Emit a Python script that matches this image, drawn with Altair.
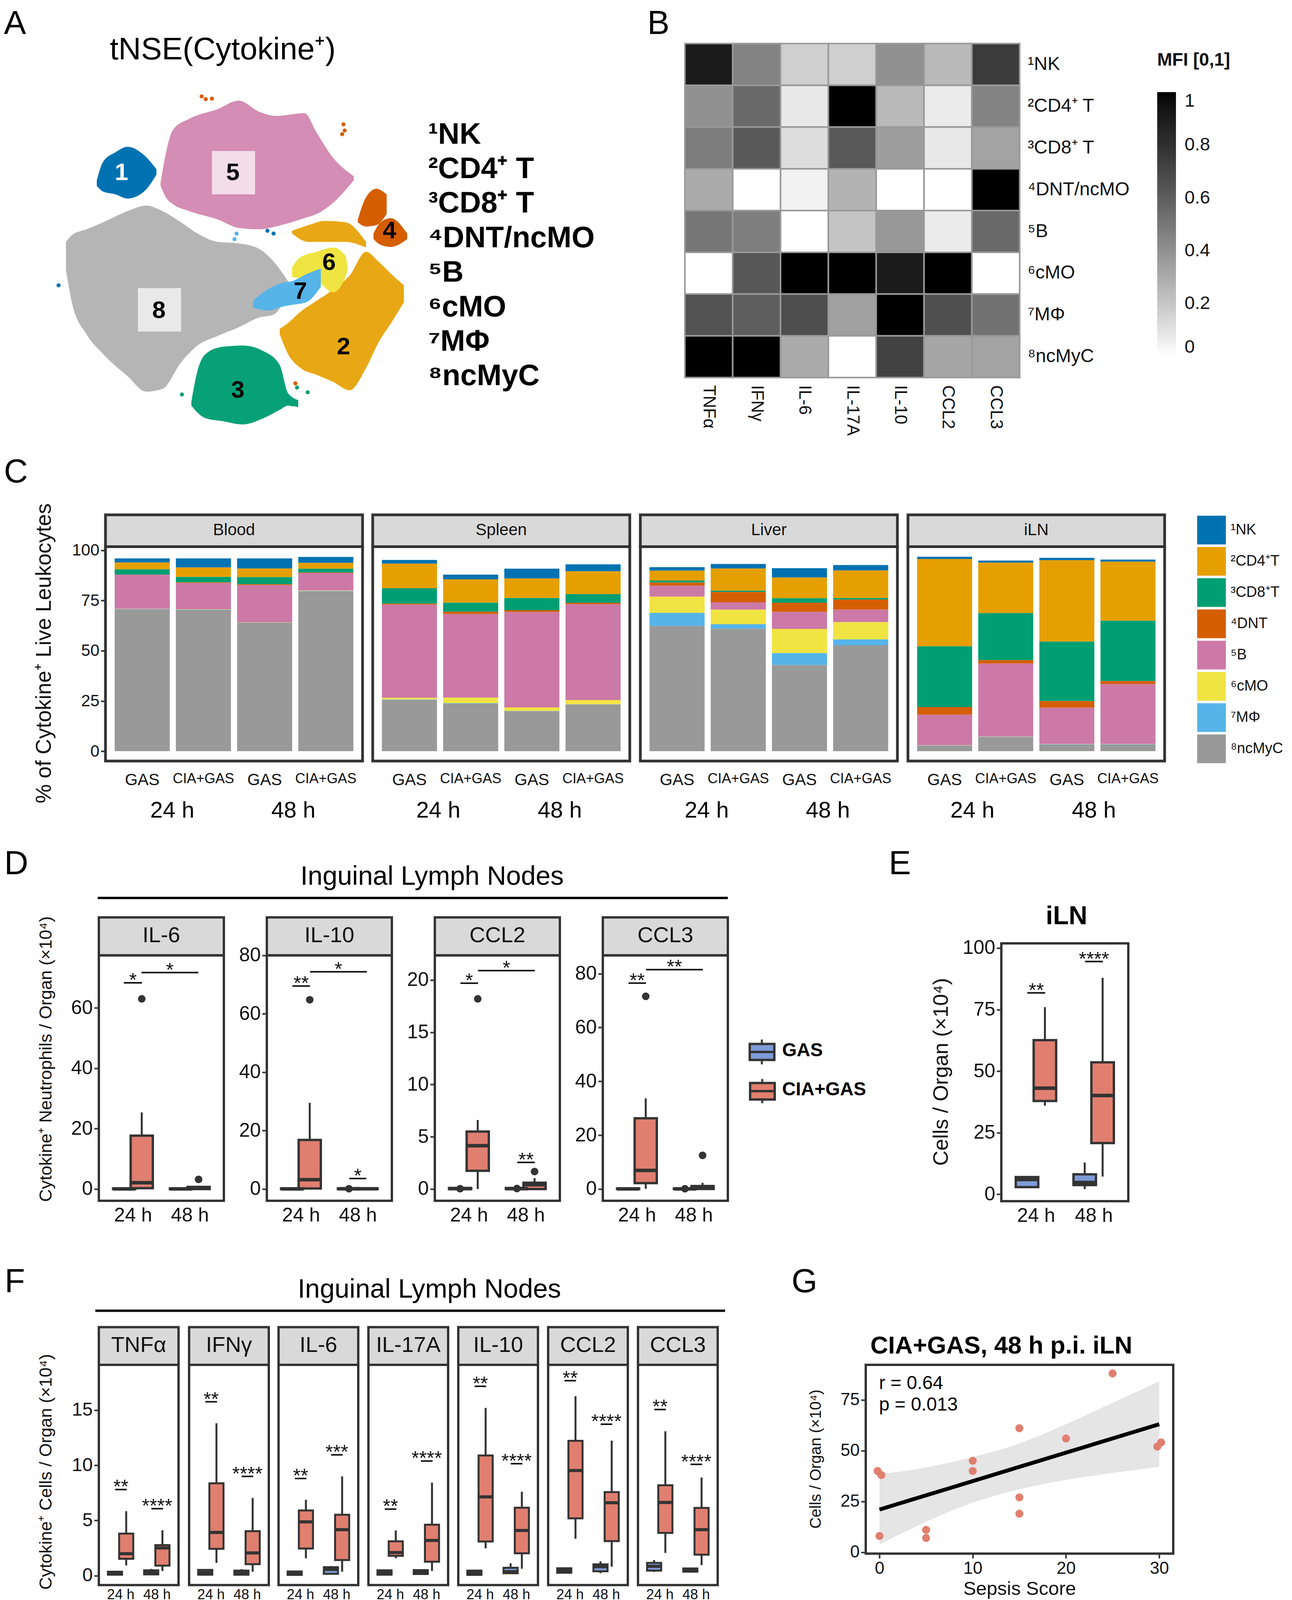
import altair as alt
import pandas as pd

# ---------- palette ----------
NAMES = ["¹NK", "²CD4⁺T", "³CD8⁺T", "⁴DNT", "⁵B", "⁶cMO", "⁷MΦ", "⁸ncMyC"]
COLORS = ["#0072B2", "#E69F00", "#009E73", "#D55E00", "#CC79A7", "#F0E442", "#56B4E9", "#999999"]
GROUP_COL = ["#7F9BD8", "#E07F6F"]
DARK = "#333333"
STRIP = "#D9D9D9"
FONT = "Liberation Sans"

# ---------- A: cluster outlines (map units) ----------
T8_X = [150, 165, 200, 240, 300, 345, 385, 430, 470, 520, 570, 620, 655, 690]
T8_T = [860, 835, 815, 790, 750, 730, 750, 790, 830, 860, 865, 885, 930, 1000]
T8_B = [960, 1080, 1190, 1260, 1340, 1395, 1385, 1290, 1230, 1195, 1165, 1130, 1120, 1040]
T5_X = [380, 395, 410, 450, 520, 570, 620, 660, 730, 760, 800, 850]
T5_T = [650, 530, 460, 420, 385, 355, 395, 410, 400, 470, 560, 625]
T5_B = [660, 705, 725, 750, 780, 810, 815, 805, 775, 760, 720, 640]
T1_X = [225, 240, 270, 300, 340, 370]
T1_T = [640, 575, 540, 520, 550, 600]
T1_B = [660, 680, 690, 705, 680, 620]
T2_X = [670, 690, 720, 760, 800, 840, 880, 910, 945, 972]
T2_T = [1170, 1150, 1110, 1070, 1030, 980, 895, 930, 980, 1015]
T2_B = [1190, 1260, 1310, 1335, 1360, 1390, 1310, 1220, 1140, 1075]
T2B_X = [700, 740, 780, 830, 880]
T2B_T = [820, 800, 785, 790, 860]
T2B_B = [830, 860, 860, 860, 880]
T4A_X = [860, 880, 905, 930]
T4A_T = [780, 700, 670, 690]
T4A_B = [790, 805, 800, 760]
T4B_X = [898, 915, 940, 980]
T4B_T = [830, 790, 775, 830]
T4B_B = [850, 870, 878, 850]
T6_X = [700, 720, 760, 800, 830, 835]
T6_T = [950, 915, 895, 880, 910, 950]
T6_B = [985, 990, 1000, 1040, 985, 960]
T7_X = [605, 640, 680, 700, 735, 770]
T7_T = [1070, 1030, 1005, 1000, 975, 955]
T7_B = [1095, 1105, 1090, 1085, 1075, 1020]
T3_X = [455, 470, 490, 530, 580, 630, 670, 690, 715]
T3_T = [1430, 1320, 1260, 1235, 1230, 1250, 1300, 1400, 1425]
T3_B = [1445, 1470, 1490, 1500, 1512, 1490, 1460, 1445, 1450]
SPECK_X = [480, 490, 505, 825, 828, 822, 132, 432, 738, 708, 712, 690, 700, 565, 560, 655, 640]
SPECK_Y = [340, 350, 348, 440, 462, 475, 1015, 1405, 1397, 1365, 1380, 1425, 1440, 830, 850, 830, 820]
SPECK_K = ["#D55E00", "#D55E00", "#D55E00", "#D55E00", "#D55E00", "#D55E00", "#0072B2", "#009E73", "#009E73",
           "#D55E00", "#009E73", "#009E73", "#009E73", "#56B4E9", "#56B4E9", "#0072B2", "#0072B2"]
TSNE_NUM = ["1", "5", "8", "7", "6", "4", "2", "3"]
TSNE_NUM_X = [285, 556, 376, 720, 790, 937, 825, 568]
TSNE_NUM_Y = [612, 612, 1105, 1037, 933, 820, 1235, 1390]
TSNE_NUM_C = ["white", "black", "black", "black", "black", "black", "black", "black"]

# ---------- B ----------
HM_COLS = ["TNFα", "IFNγ", "IL-6", "IL-17A", "IL-10", "CCL2", "CCL3"]
HM_ROWS = ["¹NK", "²CD4⁺ T", "³CD8⁺ T", "⁴DNT/ncMO", "⁵B", "⁶cMO", "⁷MΦ", "⁸ncMyC"]
HM_NK = [0.90, 0.45, 0.17, 0.17, 0.40, 0.25, 0.75]
HM_CD4 = [0.40, 0.55, 0.08, 1.00, 0.25, 0.07, 0.45]
HM_CD8 = [0.48, 0.62, 0.12, 0.62, 0.35, 0.08, 0.33]
HM_DNT = [0.30, 0.00, 0.05, 0.27, 0.00, 0.00, 1.00]
HM_B = [0.50, 0.47, 0.00, 0.21, 0.37, 0.07, 0.55]
HM_CMO = [0.00, 0.63, 1.00, 1.00, 0.90, 1.00, 0.00]
HM_MP = [0.65, 0.60, 0.67, 0.34, 1.00, 0.66, 0.52]
HM_MYC = [1.00, 1.00, 0.30, 0.00, 0.72, 0.32, 0.33]

# ---------- C: cumulative tops, ncMyC upwards to NK ----------
C_KEYS = ["GAS|24", "CIA+GAS|24", "GAS|48", "CIA+GAS|48"]
BLOOD = [[70.7, 70.8, 70.9, 87.9, 87.9, 90.6, 94.0, 96.0],
         [70.2, 70.4, 70.6, 83.8, 84.1, 86.8, 91.5, 96.0],
         [64.0, 64.1, 64.2, 82.7, 83.2, 86.7, 91.0, 96.0],
         [79.6, 79.8, 80.0, 88.7, 89.0, 90.9, 93.8, 96.7]]
SPLEEN = [[25.6, 25.8, 26.6, 73.0, 73.5, 81.1, 93.4, 95.2],
          [23.8, 24.0, 26.7, 68.3, 69.5, 74.0, 85.6, 87.9],
          [20.0, 20.1, 21.8, 69.4, 70.2, 76.3, 86.0, 90.9],
          [23.3, 23.4, 25.5, 73.2, 73.9, 78.2, 89.6, 93.0]]
LIVER = [[62.4, 68.9, 77.0, 82.4, 84.0, 85.0, 89.9, 91.6],
         [61.0, 63.2, 70.5, 74.1, 79.3, 80.0, 91.0, 93.2],
         [42.9, 48.9, 60.9, 69.4, 73.9, 76.2, 86.5, 91.1],
         [52.7, 55.7, 64.3, 70.5, 75.5, 76.3, 90.0, 92.7]]
ILN = [[2.8, 2.9, 3.0, 18.2, 22.0, 52.3, 95.7, 96.8],
       [7.1, 7.2, 7.3, 43.7, 45.4, 68.8, 93.9, 94.9],
       [3.4, 3.5, 3.6, 21.7, 25.0, 54.6, 95.1, 96.3],
       [3.4, 3.5, 3.6, 33.4, 35.0, 65.0, 94.4, 95.4]]

# ---------- D: box rows are GAS 24, CIA 24, GAS 48, CIA 48 as lo,q1,med,q3,hi ----------
D_IL6 = [[0, 0, 0.05, 0.2, 0.2], [0, 0.3, 2.1, 17.7, 25.4], [0, 0, 0.05, 0.2, 0.2], [0, 0, 0.3, 0.7, 1.1]]
D_IL6_OUT = [(1.155, 63.0), (2.155, 3.2)]
D_IL6_SIG = [(0.84, 1.16, 68.3, "*"), (1.15, 2.15, 71.7, "*")]
D_IL10 = [[0, 0, 0.05, 0.2, 0.2], [0, 0.2, 3.2, 16.8, 29.5], [0, 0, 0.1, 0.2, 0.2], [0, 0, 0.1, 0.2, 0.2]]
D_IL10_OUT = [(1.155, 64.8), (1.845, 0.1)]
D_IL10_SIG = [(0.85, 1.16, 69.5, "**"), (1.16, 2.16, 74.4, "*"), (1.85, 2.15, 3.6, "*")]
D_CCL2 = [[0, 0, 0.03, 0.1, 0.1], [0, 1.74, 4.15, 5.5, 6.6], [0, 0, 0.03, 0.1, 0.1], [0, 0, 0.42, 0.6, 1.05]]
D_CCL2_OUT = [(0.845, 0.03), (1.155, 18.2), (1.845, 0.05), (2.155, 1.67)]
D_CCL2_SIG = [(0.85, 1.16, 19.7, "*"), (1.16, 2.16, 20.9, "*"), (1.85, 2.16, 2.55, "**")]
D_CCL3 = [[0, 0, 0.05, 0.2, 0.2], [0.1, 2.2, 6.9, 26.3, 33.7], [0, 0, 0.05, 0.2, 0.2], [0, 0, 0.4, 1.1, 2.3]]
D_CCL3_OUT = [(1.845, 0.1), (1.155, 71.6), (2.155, 12.5)]
D_CCL3_SIG = [(0.85, 1.16, 76.5, "**"), (1.16, 2.16, 81.5, "**")]

# ---------- E ----------
E_BOX = [[2.9, 2.9, 6.0, 7.0, 7.0], [36.0, 37.9, 43.1, 62.6, 76.0], [2.1, 3.75, 4.8, 8.1, 12.9], [7.2, 20.8, 40.1, 53.6, 87.9]]
E_SIG = [(0.85, 1.16, 81.8, "**"), (1.85, 2.16, 94.5, "****")]

# ---------- F ----------
F_TNF = [[.1, .1, .27, .37, .37], [.94, 1.54, 2.0, 3.82, 5.85], [.12, .12, .33, .49, .62], [.43, .92, 2.52, 2.77, 4.12]]
F_TNF_SIG = [(0.85, 1.17, 7.8, "**"), (1.85, 2.17, 6.07, "****")]
F_IFN = [[.1, .1, .3, .53, .53], [1.17, 2.44, 3.92, 8.37, 13.8], [.1, .1, .3, .47, .6], [.37, 1.05, 2.07, 4.04, 7.04]]
F_IFN_SIG = [(0.85, 1.17, 15.74, "**"), (1.85, 2.17, 8.99, "****")]
F_IL6 = [[.08, .08, .23, .39, .39], [1.58, 2.46, 4.88, 5.91, 6.87], [.18, .18, .57, .78, .88], [.37, 1.42, 4.17, 5.52, 8.99]]
F_IL6_SIG = [(0.85, 1.17, 8.8, "**"), (1.85, 2.17, 10.94, "***")]
F_IL17 = [[.1, .1, .27, .49, .49], [1.58, 1.8, 2.1, 3.12, 4.1], [.1, .16, .37, .51, .51], [.43, 1.27, 3.2, 4.62, 8.43]]
F_IL17_SIG = [(0.85, 1.17, 6.03, "**"), (1.85, 2.17, 10.38, "****")]
F_IL10 = [[.08, .08, .27, .47, .47], [2.48, 3.1, 7.14, 10.88, 15.19], [.23, .23, .37, .72, 1.13], [.64, 2.03, 4.1, 6.16, 7.61]]
F_IL10_SIG = [(0.85, 1.17, 17.14, "**"), (1.85, 2.17, 10.14, "****")]
F_CCL2 = [[.27, .27, .47, .68, .68], [3.35, 5.19, 9.52, 12.21, 16.25], [.23, .41, .82, 1.03, 1.31], [.82, 3.14, 6.61, 7.57, 12.23]]
F_CCL2_SIG = [(0.85, 1.17, 17.65, "**"), (1.85, 2.17, 13.71, "****")]
F_CCL3 = [[.35, .47, .86, 1.17, 1.42], [2.07, 3.88, 6.63, 8.19, 13.07], [.31, .37, .51, .66, .66], [.96, 1.91, 4.17, 6.14, 8.89]]
F_CCL3_SIG = [(0.85, 1.17, 15.04, "**"), (1.85, 2.17, 10.08, "****")]

# ---------- G ----------
G_X = [-0.2, 0.2, 0, 5, 5, 10, 10, 15, 15, 15, 20, 25, 29.8, 30.2]
G_Y = [40, 38, 8, 11, 7, 45, 40, 61, 27, 19, 56, 88, 52, 54]
G_BAND_X = [0, 5, 10, 15, 20, 25, 30]
G_BAND_LO = [3.8, 15, 24.4, 31, 35.6, 39, 42]
G_BAND_HI = [38.4, 41.7, 46.8, 53.5, 63, 73.5, 84.1]
G_LINE_X = [0, 30]
G_LINE_Y = [21, 63]

ONE = pd.DataFrame({"_": [0]})
PAGE = 8
SY = 0.9364  # the whole page is drawn this much shorter so that nothing falls below the photographed area


def Y(v):
    return v * SY


R1, R2, R3, R4 = PAGE, Y(1230), Y(2300), Y(3420)  # where each row starts


def frame(w, H, top, sw=6):
    return alt.Chart(ONE).mark_rect(fillOpacity=0, stroke=DARK, strokeWidth=sw).encode(
        x=alt.value(0), x2=alt.value(w), y=alt.value(top), y2=alt.value(H))


def strip(w, y0, top, text, size, sw=6):
    box = alt.Chart(ONE).mark_rect(fill=STRIP, stroke=DARK, strokeWidth=sw).encode(
        x=alt.value(0), x2=alt.value(w), y=alt.value(y0), y2=alt.value(top))
    lab = alt.Chart(ONE).mark_text(text=text, fontSize=size, color="#111111", baseline="middle", align="center").encode(
        x=alt.value(w / 2), y=alt.value((y0 + top) / 2 - 2))
    return [box, lab]


def spacer(w, h=1):
    return alt.Chart(ONE).mark_point(opacity=0).encode(x=alt.value(0), y=alt.value(0)).properties(width=w, height=h)


def box_panel(w, H, top, ydom, yticks, rows, out=(), sig=(), strip_text=None, y0=0, strip_size=56,
              show_y=True, ylab=50, xlab=50, xpad=12, ytitle=None, stroke=6, med=9, dot=380):
    xc = [1 - .155, 1 + .155, 2 - .155, 2 + .155]
    hw = .195
    df = pd.DataFrame(rows, columns=["lo", "q1", "med", "q3", "hi"])
    df["xc"] = xc
    df["x1"] = df.xc - hw
    df["x2"] = df.xc + hw
    df["g"] = ["GAS", "CIA+GAS", "GAS", "CIA+GAS"]
    xs = alt.Scale(domain=[0.4, 2.6], nice=False, zero=False)
    ys = alt.Scale(domain=list(ydom), range=[H, top], nice=False, zero=False)
    xaxis = alt.Axis(values=[1, 2], labelExpr="datum.value == 1 ? '24 h' : '48 h'", ticks=False, domain=False,
                     grid=False, labelFontSize=xlab, labelPadding=xpad, title=None, labelColor="#111111", labelAngle=0)
    if show_y:
        kw = dict(values=list(yticks), domain=False, grid=False, tickColor=DARK, tickWidth=4, tickSize=12,
                  labelFontSize=ylab, labelPadding=4, labelColor="#111111")
        if ytitle:
            kw.update(title=ytitle[0], titleFontSize=ytitle[3], titleFontWeight="normal", titleX=ytitle[1],
                      titleY=ytitle[2], titleBaseline="middle", titleAlign="center", titleColor="#111111")
        else:
            kw.update(title=None)
        yaxis = alt.Axis(**kw)
    else:
        yaxis = None
    base = alt.Chart(df)
    layers = []
    if strip_text:
        layers += strip(w, y0, top, strip_text, strip_size)
    layers.append(base.mark_rule(color=DARK, strokeWidth=5).encode(
        x=alt.X("xc:Q", scale=xs, axis=xaxis),
        y=alt.Y("lo:Q", scale=ys, axis=yaxis), y2="hi:Q"))
    layers.append(base.mark_rect(stroke=DARK, strokeWidth=stroke).encode(
        x=alt.X("x1:Q", scale=xs), x2="x2:Q", y=alt.Y("q1:Q", scale=ys), y2="q3:Q",
        fill=alt.Fill("g:N", scale=alt.Scale(domain=["GAS", "CIA+GAS"], range=GROUP_COL), legend=None)))
    layers.append(base.mark_rule(color=DARK, strokeWidth=med).encode(
        x=alt.X("x1:Q", scale=xs), x2="x2:Q", y=alt.Y("med:Q", scale=ys)))
    if len(out):
        o = pd.DataFrame(out, columns=["x", "y"])
        layers.append(alt.Chart(o).mark_point(filled=True, color=DARK, opacity=1, size=dot).encode(
            x=alt.X("x:Q", scale=xs), y=alt.Y("y:Q", scale=ys)))
    if len(sig):
        s = pd.DataFrame(sig, columns=["a", "b", "y", "t"])
        s["m"] = (s.a + s.b) / 2
        layers.append(alt.Chart(s).mark_rule(color="#111111", strokeWidth=4).encode(
            x=alt.X("a:Q", scale=xs), x2="b:Q", y=alt.Y("y:Q", scale=ys)))
        layers.append(alt.Chart(s).mark_text(fontSize=50, color="#111111", baseline="alphabetic", dy=10).encode(
            x=alt.X("m:Q", scale=xs), y=alt.Y("y:Q", scale=ys), text="t:N"))
    layers.append(frame(w, H, top))
    return alt.layer(*layers).properties(width=w, height=H)


def stack_panel(name, tops, w, show_y=False, legend=None):
    y0, top, H = Y(1401) - R2, Y(1488) - R2, Y(2074) - R2
    rows = []
    order = NAMES[::-1]
    for key, col in zip(C_KEYS, tops):
        prev = 0
        for n, t in zip(order, col):
            rows.append({"key": key, "cell": n, "lo": prev, "hi": t})
            prev = t
    df = pd.DataFrame(rows)
    ys = alt.Scale(domain=[-4.9, 101.8], range=[H, top], nice=False, zero=False)
    xaxis = alt.Axis(labelExpr="split(datum.label,'|')[0]", ticks=False, domain=False, grid=False, title=None,
                     labelAngle=0, labelPadding=28, labelColor="#111111",
                     labelFontSize={"condition": {"test": "indexof(datum.value,'CIA') >= 0", "value": 36}, "value": 42})
    if show_y:
        yaxis = alt.Axis(values=[0, 25, 50, 75, 100], domain=False, grid=False, tickColor=DARK, tickWidth=4,
                         tickSize=12, labelFontSize=42, labelPadding=4, labelColor="#111111",
                         title="% of Cytokine⁺ Live Leukocytes", titleFontSize=55, titleFontWeight="normal",
                         titleX=-158, titleY=Y(1779) - R2, titleBaseline="middle", titleAlign="center",
                         titleColor="#111111")
    else:
        yaxis = None
    bars = alt.Chart(df).mark_bar(clip=False).encode(
        x=alt.X("key:N", scale=alt.Scale(domain=C_KEYS, paddingInner=.1, paddingOuter=.15), axis=xaxis),
        y=alt.Y("lo:Q", scale=ys, axis=yaxis), y2="hi:Q",
        color=alt.Color("cell:N", scale=alt.Scale(domain=NAMES, range=COLORS), legend=legend))
    return alt.layer(*strip(w, y0, top, name, 42, 7), bars, frame(w, H, top, 7)).properties(width=w, height=H)


# ---- A ----
TSNE_H = Y(1200) - R1
TX = alt.Scale(domain=[0, 1568], nice=False, zero=False)
TY = alt.Scale(domain=[R1 / (0.7653 * SY), 1568], range=[0, TSNE_H], nice=False, zero=False)


def blob(xs, ts, bs, color, op):
    d = pd.DataFrame({"x": xs, "t": ts, "b": bs})
    return alt.Chart(d).mark_area(color=color, opacity=op, interpolate="monotone").encode(
        x=alt.X("x:Q", scale=TX, axis=None), y=alt.Y("t:Q", scale=TY, axis=None), y2="b:Q")


patches = pd.DataFrame({"a": [505, 325], "b": [610, 430], "t": [535, 1025], "u": [690, 1180]})
nums = pd.DataFrame({"x": TSNE_NUM_X, "y": TSNE_NUM_Y, "n": TSNE_NUM, "c": TSNE_NUM_C})
specks = pd.DataFrame({"x": SPECK_X, "y": SPECK_Y, "k": SPECK_K})
tsne = alt.layer(
    blob(T8_X, T8_T, T8_B, "#999999", .72),
    blob(T5_X, T5_T, T5_B, "#CC79A7", .85),
    blob(T1_X, T1_T, T1_B, "#0072B2", 1),
    blob(T2_X, T2_T, T2_B, "#E69F00", .92),
    blob(T2B_X, T2B_T, T2B_B, "#E69F00", .92),
    blob(T4A_X, T4A_T, T4A_B, "#D55E00", 1),
    blob(T4B_X, T4B_T, T4B_B, "#D55E00", 1),
    blob(T6_X, T6_T, T6_B, "#F0E442", 1),
    blob(T7_X, T7_T, T7_B, "#56B4E9", 1),
    blob(T3_X, T3_T, T3_B, "#009E73", .97),
    alt.Chart(specks).mark_point(filled=True, opacity=1, size=110).encode(
        x=alt.X("x:Q", scale=TX), y=alt.Y("y:Q", scale=TY), color=alt.Color("k:N", scale=None)),
    alt.Chart(patches).mark_rect(fill="white", opacity=.7).encode(
        x=alt.X("a:Q", scale=TX), x2="b:Q", y=alt.Y("t:Q", scale=TY), y2="u:Q"),
    alt.Chart(nums).mark_text(fontSize=62, fontWeight="bold", baseline="middle").encode(
        x=alt.X("x:Q", scale=TX), y=alt.Y("y:Q", scale=TY), text="n:N",
        color=alt.Color("c:N", scale=None)),
).properties(width=1650, height=TSNE_H)

# ---- B ----
hm_vals = [HM_NK, HM_CD4, HM_CD8, HM_DNT, HM_B, HM_CMO, HM_MP, HM_MYC]
hm_df = pd.DataFrame([{"r": r, "c": c, "v": v} for r, row_ in zip(HM_ROWS, hm_vals) for c, v in zip(HM_COLS, row_)])
HEAT_TOP, HEAT_H = Y(116) - R1, Y(1029) - R1
heat = alt.Chart(hm_df).mark_rect(stroke="#999999", strokeWidth=4).encode(
    x=alt.X("c:N", scale=alt.Scale(domain=HM_COLS), axis=alt.Axis(
        title=None, labelAngle=90, ticks=False, domain=False, labelFontSize=44, labelPadding=19,
        labelAlign="left", labelBaseline="middle", labelColor="#111111")),
    y=alt.Y("r:N", scale=alt.Scale(domain=HM_ROWS, range=[HEAT_TOP, HEAT_H]), axis=alt.Axis(
        orient="right", title=None, ticks=False, domain=False, labelFontSize=48, labelPadding=20,
        labelColor="#111111", labelLimit=500)),
    color=alt.Color("v:Q", scale=alt.Scale(domain=[0, 1], range=["#FFFFFF", "#000000"]), legend=alt.Legend(
        orient="none", legendX=1209, legendY=Y(162) - 23 - R1, type="gradient", gradientLength=Y(723),
        gradientThickness=48, title="MFI [0,1]", titleFontSize=46, titleFontWeight="bold", titleColor="#111111",
        titlePadding=58, titleLimit=500, values=[0, .2, .4, .6, .8, 1], format=".1~f", labelFontSize=47,
        labelOffset=22, labelColor="#111111", gradientStrokeWidth=0)),
).properties(width=857, height=HEAT_H)

# ---- C ----
c_legend = alt.Legend(orient="none", legendX=740, legendY=Y(1403) - R2, title=None, symbolType="square",
                      symbolSize=5400, symbolStrokeWidth=0, labelFontSize=38, rowPadding=6, labelOffset=12,
                      labelColor="#111111", padding=0, labelLimit=300)
p_blood = stack_panel("Blood", BLOOD, 658, show_y=True)
p_spleen = stack_panel("Spleen", SPLEEN, 658)
p_liver = stack_panel("Liver", LIVER, 658)
p_iln = stack_panel("iLN", ILN, 657, legend=c_legend)

# ---- D ----
D_T = ("Cytokine⁺ Neutrophils / Organ (×10⁴)", -136, Y(2885) - R3, 45)
dkw = dict(w=320, H=Y(3273) - R3, top=Y(2602) - R3, y0=Y(2498) - R3)
d1 = box_panel(ydom=(-3.9, 77.4), yticks=[0, 20, 40, 60], rows=D_IL6, out=D_IL6_OUT, sig=D_IL6_SIG, strip_text="IL-6", ytitle=D_T, **dkw)
d2 = box_panel(ydom=(-4.04, 80), yticks=[0, 20, 40, 60, 80], rows=D_IL10, out=D_IL10_OUT, sig=D_IL10_SIG, strip_text="IL-10", **dkw)
d3 = box_panel(ydom=(-1.13, 22.36), yticks=[0, 5, 10, 15, 20], rows=D_CCL2, out=D_CCL2_OUT, sig=D_CCL2_SIG, strip_text="CCL2", **dkw)
d4 = box_panel(ydom=(-4.39, 86.8), yticks=[0, 20, 40, 60, 80], rows=D_CCL3, out=D_CCL3_OUT, sig=D_CCL3_SIG, strip_text="CCL3", **dkw)
# ---- E ----
e = box_panel(325, Y(3274) - R3, Y(2569) - R3, (-2.8, 101.9), [0, 25, 50, 75, 100], E_BOX, (), E_SIG,
              ytitle=("Cells / Organ (×10⁴)", -154, Y(2920) - R3, 54), ylab=50)

# ---- F ----
F_T = ("Cytokine⁺ Cells / Organ (×10⁴)", -136, Y(4010) - R4, 45)
fkw = dict(w=204, H=Y(4320) - R4, top=Y(3718) - R4, y0=Y(3615) - R4, ydom=(-.84, 19.08), yticks=[0, 5, 10, 15],
           xlab=36, xpad=8, ylab=48, stroke=5, med=8)
f1 = box_panel(rows=F_TNF, sig=F_TNF_SIG, strip_text="TNFα", ytitle=F_T, **fkw)
f2 = box_panel(rows=F_IFN, sig=F_IFN_SIG, strip_text="IFNγ", show_y=False, **fkw)
f3 = box_panel(rows=F_IL6, sig=F_IL6_SIG, strip_text="IL-6", show_y=False, **fkw)
f4 = box_panel(rows=F_IL17, sig=F_IL17_SIG, strip_text="IL-17A", show_y=False, **fkw)
f5 = box_panel(rows=F_IL10, sig=F_IL10_SIG, strip_text="IL-10", show_y=False, **fkw)
f6 = box_panel(rows=F_CCL2, sig=F_CCL2_SIG, strip_text="CCL2", show_y=False, **fkw)
f7 = box_panel(rows=F_CCL3, sig=F_CCL3_SIG, strip_text="CCL3", show_y=False, **fkw)

# ---- G ----
GW, GH, GTOP = 787, Y(4234) - R4, Y(3718) - R4
gx = alt.Scale(domain=[-1.47, 31.5], nice=False, zero=False)
gy = alt.Scale(domain=[-.67, 92.2], range=[GH, GTOP], nice=False, zero=False)
gband = pd.DataFrame({"x": G_BAND_X, "lo": G_BAND_LO, "hi": G_BAND_HI})
gline = pd.DataFrame({"x": G_LINE_X, "y": G_LINE_Y})
gpts = pd.DataFrame({"x": G_X, "y": G_Y})
g = alt.layer(
    alt.Chart(gband).mark_area(color="#E5E5E5", interpolate="monotone").encode(
        x=alt.X("x:Q", scale=gx, axis=alt.Axis(values=[0, 10, 20, 30], grid=False, domain=False, tickColor=DARK,
                                               tickWidth=4, tickSize=12, labelFontSize=44, labelPadding=4,
                                               labelColor="#111111", title="Sepsis Score", titleFontSize=49,
                                               titleFontWeight="normal", titlePadding=6, titleColor="#111111")),
        y=alt.Y("lo:Q", scale=gy, axis=alt.Axis(values=[0, 25, 50, 75], grid=False, domain=False, tickColor=DARK,
                                                tickWidth=4, tickSize=12, labelFontSize=44, labelPadding=4,
                                                labelColor="#111111", title="Cells / Organ (×10⁴)", titleFontSize=40,
                                                titleFontWeight="normal", titleX=-128, titleY=Y(3975) - R4,
                                                titleBaseline="middle", titleAlign="center", titleColor="#111111")),
        y2="hi:Q"),
    alt.Chart(gpts).mark_point(filled=True, color=GROUP_COL[1], opacity=1, size=420).encode(
        x=alt.X("x:Q", scale=gx), y=alt.Y("y:Q", scale=gy)),
    alt.Chart(gline).mark_line(color="black", strokeWidth=10).encode(
        x=alt.X("x:Q", scale=gx), y=alt.Y("y:Q", scale=gy)),
    frame(GW, GH, GTOP),
).properties(width=GW, height=GH)


# ---- free page text, rules and the box key ----
def T(top, text, x, y, size, weight="normal", align="center"):
    return alt.Chart(ONE).mark_text(text=text, fontSize=size, fontWeight=weight, align=align, baseline="middle",
                                    color="black").encode(x=alt.value(x - PAGE), y=alt.value(Y(y) - top))


def HLINE(top, x1, x2, y, sw=6, color="black"):
    return alt.Chart(ONE).mark_rule(color=color, strokeWidth=sw).encode(
        x=alt.value(x1 - PAGE), x2=alt.value(x2 - PAGE), y=alt.value(Y(y) - top))


def VLINE(top, x, y1, y2, sw=5):
    return alt.Chart(ONE).mark_rule(color=DARK, strokeWidth=sw).encode(
        x=alt.value(x - PAGE), y=alt.value(Y(y1) - top), y2=alt.value(Y(y2) - top))


def KEY(top, color, x1, x2, y1, y2):
    return alt.Chart(ONE).mark_rect(fill=color, stroke=DARK, strokeWidth=6).encode(
        x=alt.value(x1 - PAGE), x2=alt.value(x2 - PAGE), y=alt.value(Y(y1) - top), y2=alt.value(Y(y2) - top))


n1 = [T(R1, "A", 8, 62, 85, align="left"), T(R1, "B", 1655, 62, 85, align="left"),
      T(R1, "tNSE(Cytokine⁺)", 568, 134, 80)]
for t, y in zip(HM_ROWS, [365, 459, 553, 648, 742, 837, 931, 1025]):
    n1.append(T(R1, t, 1094, y, 76, "bold", "left"))
n2 = [T(R2, "C", 8, 1284, 85, align="left")]
for x, t in [(439, "24 h"), (749, "48 h"), (1120, "24 h"), (1431, "48 h"), (1807, "24 h"), (2117, "48 h"),
             (2487, "24 h"), (2798, "48 h")]:
    n2.append(T(R2, t, x, 2210, 58))
n3 = [T(R3, "D", 9, 2352, 85, align="left"), T(R3, "E", 2273, 2352, 85, align="left"),
      T(R3, "Inguinal Lymph Nodes", 1104, 2388, 68), HLINE(R3, 248, 1861, 2445),
      T(R3, "iLN", 2728, 2495, 66, "bold"),
      T(R3, "GAS", 2000, 2863, 48, "bold", "left"), T(R3, "CIA+GAS", 2000, 2970, 48, "bold", "left"),
      VLINE(R3, 1948, 2832, 2900), KEY(R3, GROUP_COL[0], 1917, 1980, 2844, 2888), HLINE(R3, 1917, 1980, 2866, 6, DARK),
      VLINE(R3, 1949, 2940, 3006), KEY(R3, GROUP_COL[1], 1918, 1981, 2951, 2996), HLINE(R3, 1918, 1981, 2973, 6, DARK)]
n4 = [T(R4, "F", 10, 3492, 85, align="left"), T(R4, "G", 2024, 3492, 85, align="left"),
      T(R4, "Inguinal Lymph Nodes", 1097, 3513, 68), HLINE(R4, 242, 1854, 3570),
      T(R4, "CIA+GAS, 48 h p.i. iLN", 2561, 3667, 63, "bold"),
      T(R4, "r = 0.64", 2248, 3769, 48, align="left"), T(R4, "p = 0.013", 2248, 3828, 48, align="left")]


def row(height, notes, items):
    cells = [alt.layer(*notes).properties(width=1, height=height)]
    cur = PAGE + 1
    for x, w, ch in items:
        gap = x - cur
        if gap > 0:
            cells.append(spacer(gap))
            cur += gap
        cells.append(ch)
        cur += w
    return alt.hconcat(*cells, spacing=0, bounds="flush").resolve_scale(
        color="independent", fill="independent", x="independent", y="independent")


chart = alt.vconcat(
    row(R2 - R1, n1, [(9, 1650, tsne), (1751, 857, heat)]),
    row(R3 - R2, n2, [(268, 658, p_blood), (952, 658, p_spleen), (1637, 658, p_liver), (2322, 657, p_iln)]),
    row(R4 - R3, n3, [(251, 320, d1), (681, 320, d2), (1111, 320, d3), (1541, 320, d4), (2561, 325, e)]),
    row(880, n4, [(251, 204, f1), (482, 204, f2), (711, 204, f3), (941, 204, f4), (1171, 204, f5), (1401, 204, f6),
                  (1631, 204, f7), (2214, GW, g)]),
    spacing=0,
).resolve_scale(color="independent", fill="independent", x="independent", y="independent"
                ).properties(padding=0).configure(font=FONT).configure_view(stroke=None)

chart.save("out.html", embed_options={"renderer": "svg", "actions": False})
